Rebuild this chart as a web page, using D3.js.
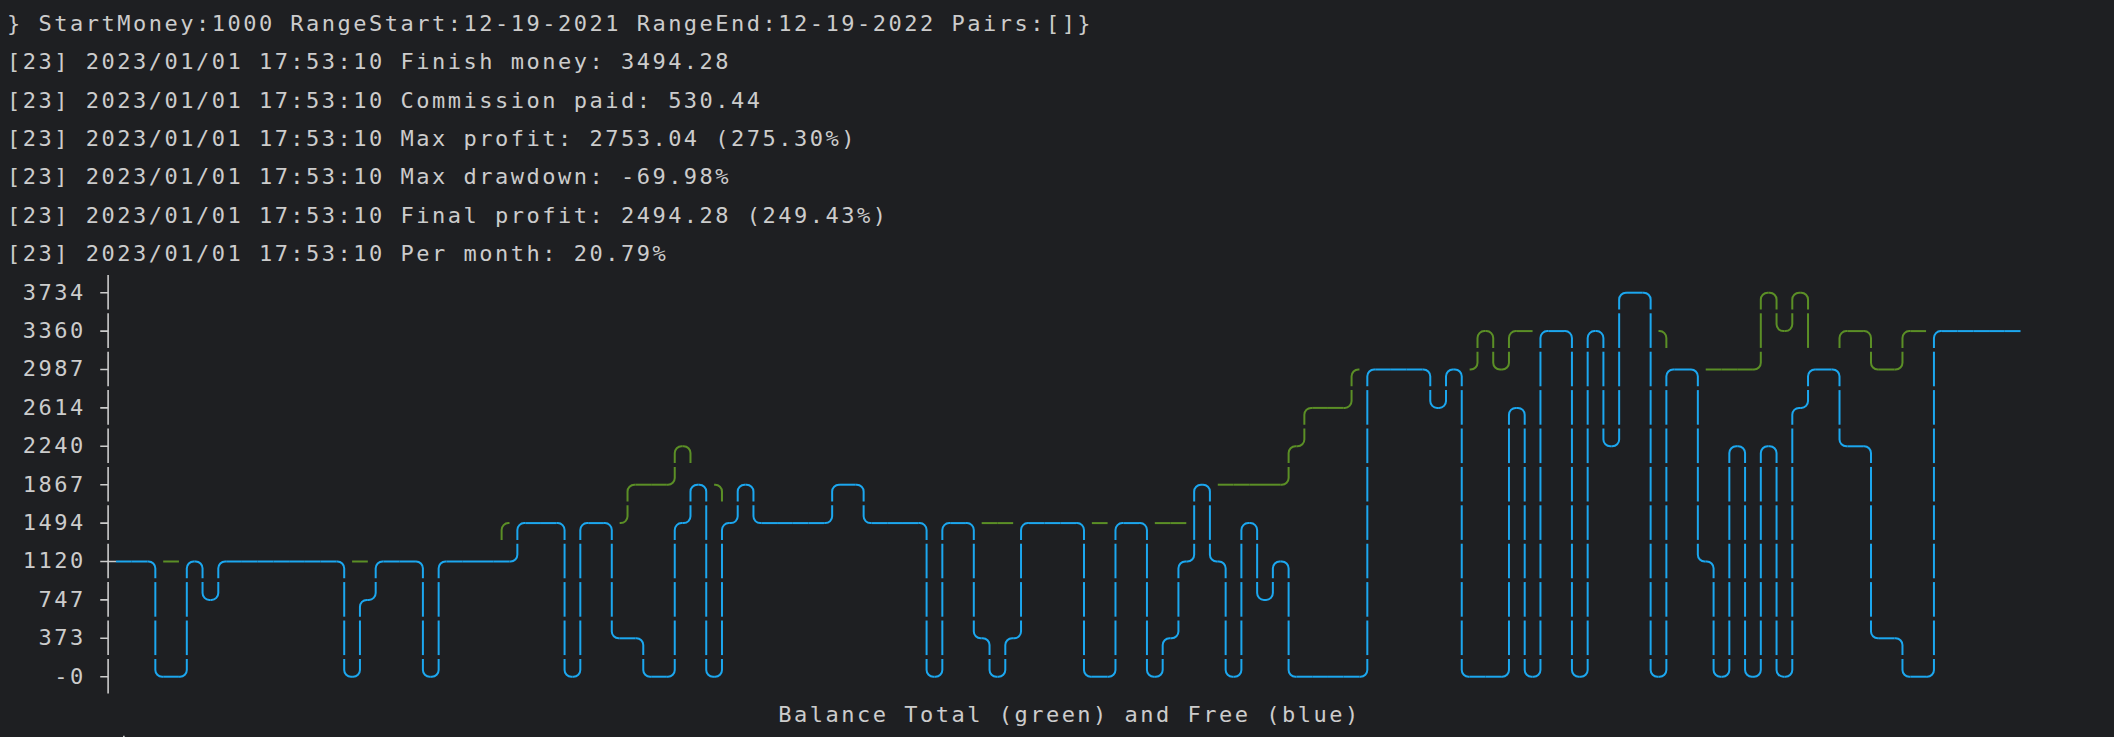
<!DOCTYPE html>
<html>
<head>
<meta charset="utf-8">
<script src="https://cdn.jsdelivr.net/npm/d3@7"></script>
<style>
html,body{margin:0;padding:0;background:#1e1f22;overflow:hidden}
svg{display:block}
text{white-space:pre}
</style>
</head>
<body>
<svg id="chart" width="2114" height="737"></svg>
<script>
// ---------------- data ----------------
const headerLines = [
  "} StartMoney:1000 RangeStart:12-19-2021 RangeEnd:12-19-2022 Pairs:[]}",
  "[23] 2023/01/01 17:53:10 Finish money: 3494.28",
  "[23] 2023/01/01 17:53:10 Commission paid: 530.44",
  "[23] 2023/01/01 17:53:10 Max profit: 2753.04 (275.30%)",
  "[23] 2023/01/01 17:53:10 Max drawdown: -69.98%",
  "[23] 2023/01/01 17:53:10 Final profit: 2494.28 (249.43%)",
  "[23] 2023/01/01 17:53:10 Per month: 20.79%"
];
const tickLabels = ["3734","3360","2987","2614","2240","1867","1494","1120","747","373","-0"];
const caption = "Balance Total (green) and Free (blue)";
const valueMin = 0;
const valueMax = 3734;

// Balance Total (green)
const totalBalance = [
  1120,1120,1120,1120,1120,1120,1120,1120,1120,1120,
  1120,1120,1120,1120,1120,1120,1120,1120,1120,1120,
  1120,1120,1120,1120,1120,1494,1494,1494,1494,1494,
  1494,1494,1494,1867,1867,1867,2240,1867,1867,1494,
  1867,1494,1494,1494,1494,1494,1867,1867,1494,1494,
  1494,1494,1494,1494,1494,1494,1494,1494,1494,1494,
  1494,1494,1494,1494,1494,1494,1494,1494,1494,1867,
  1867,1867,1867,1867,1867,2240,2614,2614,2614,2987,
  2987,2987,2987,2987,2987,2987,2987,3360,2987,3360,
  3360,3360,3360,3360,3360,3360,3734,3734,3360,2987,
  2987,2987,2987,2987,2987,3734,3360,3734,2987,2987,
  3360,3360,2987,2987,3360,3360,3360,3360,3360,3360,
  3360,3494
];
// Balance Free (blue)
const freeBalance = [
  1120,1120,1120,0,0,1120,747,1120,1120,1120,
  1120,1120,1120,1120,1120,0,747,1120,1120,1120,
  0,1120,1120,1120,1120,1120,1494,1494,1494,0,
  1494,1494,373,373,0,0,1494,1867,0,1494,
  1867,1494,1494,1494,1494,1494,1867,1867,1494,1494,
  1494,1494,0,1494,1494,373,0,373,1494,1494,
  1494,1494,0,0,1494,1494,0,373,1120,1867,
  1120,0,1494,747,1120,0,0,0,0,0,
  2987,2987,2987,2987,2614,2987,0,0,0,2614,
  0,3360,3360,0,3360,2240,3734,3734,0,2987,
  2987,1120,0,2240,0,2240,0,2614,2987,2987,
  2240,2240,373,373,0,0,3360,3360,3360,3360,
  3360,3494
];
const seriesColors = ["#5b8f26", "#1ca7ef"]; // total, free

// ---------------- layout ----------------
const W = 2114, H = 737;
const CW = 15.74;           // terminal cell width
const LH = 38.4;            // terminal line height
const BG = "#1e1f22";
const FG = "#cccccc";
const cellX = j => 13.67 + CW * j;          // cell centre
const lineBase = k => 30.8 + LH * k;        // text baseline of line k
const lineMid = k => 23.9 + LH * k;         // box-drawing centre of line k
const BOX_TOP = 17.8, BOX_BOT = 16.8, R = 6.8;

const svg = d3.select("#chart");
svg.append("rect").attr("width", W).attr("height", H).attr("fill", BG);

function drawText(str, k, startCell, color) {
  const chars = Array.from(str);
  svg.append("text")
    .attr("x", chars.map((c, i) => cellX(startCell + i).toFixed(2)).join(" "))
    .attr("y", lineBase(k))
    .attr("text-anchor", "middle")
    .attr("font-family", "'DejaVu Sans Mono', monospace")
    .attr("font-size", 22)
    .attr("fill", color)
    .text(str);
}

headerLines.forEach((s, k) => drawText(s, k, 0, FG));

// ---------------- scales ----------------
const ROWS = tickLabels.length - 1;
const toRow = d3.scaleLinear().domain([valueMin, valueMax]).range([0, ROWS]);
const rowOf = v => Math.round(toRow(v));
const FIRST_LINE = 7;
const yRow = d3.scaleLinear().domain([0, ROWS]).range([lineMid(FIRST_LINE + ROWS), lineMid(FIRST_LINE)]);
const nCols = freeBalance.length - 1;
const DATA_CELL = 7;
const xCol = d3.scaleLinear().domain([0, nCols - 1]).range([cellX(DATA_CELL), cellX(DATA_CELL + nCols - 1)]);

// labels
tickLabels.forEach((lab, i) => {
  const k = FIRST_LINE + i;
  drawText(lab, k, 5 - lab.length, FG);
});

// ---------------- ascii grid ----------------
const grid = new Map();
const put = (r, c, g, color) => grid.set(r + "," + c, { r, c, g, color });
for (let r = 0; r <= ROWS; r++) put(r, -1, "┤", FG);
[[totalBalance, seriesColors[0]], [freeBalance, seriesColors[1]]].forEach(([s, col]) => {
  put(rowOf(s[0]), -1, "┼", FG);
  for (let x = 0; x < s.length - 1; x++) {
    const y0 = rowOf(s[x]), y1 = rowOf(s[x + 1]);
    if (y0 === y1) put(y0, x, "─", col);
    else {
      if (y0 > y1) { put(y1, x, "╰", col); put(y0, x, "╮", col); }
      else { put(y1, x, "╭", col); put(y0, x, "╯", col); }
      for (let y = Math.min(y0, y1) + 1; y < Math.max(y0, y1); y++) put(y, x, "│", col);
    }
  }
});

function glyphPath(g, cx, cy) {
  const hw = CW / 2, t = cy - BOX_TOP, b = cy + BOX_BOT;
  switch (g) {
    case "─": return `M${cx - hw},${cy}H${cx + hw}`;
    case "│": return `M${cx},${t}V${b}`;
    case "╮": return `M${cx - hw},${cy}H${cx - R}A${R},${R} 0 0 1 ${cx},${cy + R}V${b}`;
    case "╭": return `M${cx + hw},${cy}H${cx + R}A${R},${R} 0 0 0 ${cx},${cy + R}V${b}`;
    case "╯": return `M${cx},${t}V${cy - R}A${R},${R} 0 0 1 ${cx - R},${cy}H${cx - hw}`;
    case "╰": return `M${cx},${t}V${cy - R}A${R},${R} 0 0 0 ${cx + R},${cy}H${cx + hw}`;
    case "┤": return `M${cx},${t}V${b}M${cx - hw},${cy}H${cx}`;
    case "┼": return `M${cx},${t}V${b}M${cx - hw},${cy}H${cx + hw}`;
  }
  return "";
}

svg.append("g").selectAll("path")
  .data(Array.from(grid.values()))
  .join("path")
  .attr("d", d => glyphPath(d.g, xCol(d.c), yRow(d.r)))
  .attr("fill", "none")
  .attr("stroke", d => d.color)
  .attr("stroke-width", d => d.c < 0 ? 1.6 : 2);

// caption (centred under the plot as asciigraph does)
const capStart = DATA_CELL + Math.floor((freeBalance.length - caption.length) / 2);
drawText(caption, FIRST_LINE + ROWS + 1, capStart, FG);

// top of the next terminal line (cut off by the screenshot)
svg.append("path")
  .attr("d", glyphPath("│", cellX(DATA_CELL), lineMid(FIRST_LINE + ROWS + 2)))
  .attr("stroke", FG).attr("stroke-width", 1.6).attr("fill", "none");
</script>
</body>
</html>
